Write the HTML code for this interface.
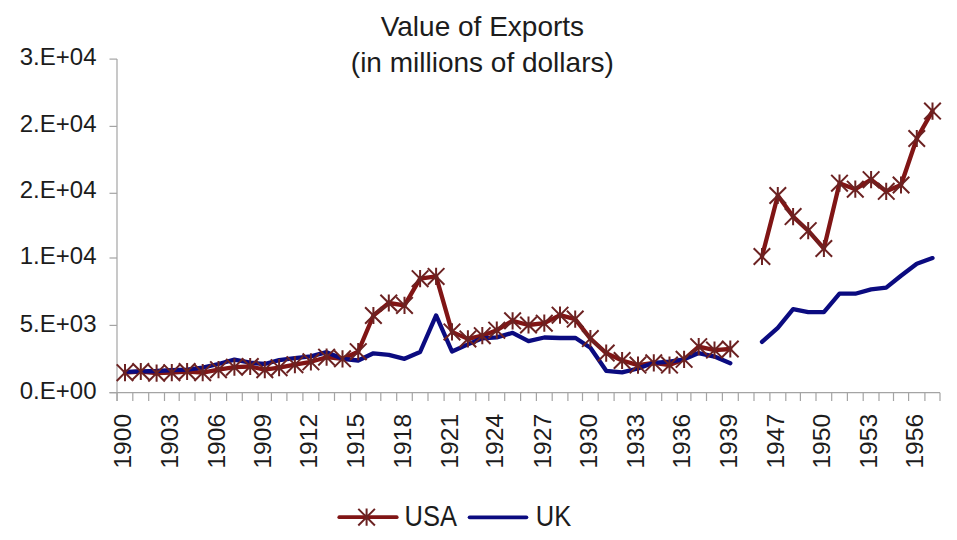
<!DOCTYPE html>
<html><head><meta charset="utf-8"><style>
html,body{margin:0;padding:0;background:#fff;width:957px;height:540px;overflow:hidden}
svg{display:block}
text{font-family:"Liberation Sans",sans-serif;fill:#1c1c1c}
</style></head><body>
<svg width="957" height="540" viewBox="0 0 957 540">
<rect width="957" height="540" fill="#fff"/>
<line x1="117" y1="59.1" x2="117" y2="401" stroke="#a4a4a4" stroke-width="1.2"/>
<line x1="109.5" y1="392.7" x2="940" y2="392.7" stroke="#a4a4a4" stroke-width="1.2"/>
<line x1="109.5" y1="59.1" x2="117" y2="59.1" stroke="#a4a4a4" stroke-width="1.2"/>
<text x="96.5" y="65.0" text-anchor="end" font-size="24">3.E+04</text>
<line x1="109.5" y1="126.4" x2="117" y2="126.4" stroke="#a4a4a4" stroke-width="1.2"/>
<text x="96.5" y="132.2" text-anchor="end" font-size="24">2.E+04</text>
<line x1="109.5" y1="193.3" x2="117" y2="193.3" stroke="#a4a4a4" stroke-width="1.2"/>
<text x="96.5" y="198.4" text-anchor="end" font-size="24">2.E+04</text>
<line x1="109.5" y1="258.0" x2="117" y2="258.0" stroke="#a4a4a4" stroke-width="1.2"/>
<text x="96.5" y="264.2" text-anchor="end" font-size="24">1.E+04</text>
<line x1="109.5" y1="325.4" x2="117" y2="325.4" stroke="#a4a4a4" stroke-width="1.2"/>
<text x="96.5" y="331.6" text-anchor="end" font-size="24">5.E+03</text>
<line x1="109.5" y1="392.7" x2="117" y2="392.7" stroke="#a4a4a4" stroke-width="1.2"/>
<text x="96.5" y="398.8" text-anchor="end" font-size="24">0.E+00</text>
<line x1="117.1" y1="392.7" x2="117.1" y2="401" stroke="#a4a4a4" stroke-width="1.2"/>
<line x1="132.8" y1="392.7" x2="132.8" y2="401" stroke="#a4a4a4" stroke-width="1.2"/>
<line x1="148.7" y1="392.7" x2="148.7" y2="401" stroke="#a4a4a4" stroke-width="1.2"/>
<line x1="164.5" y1="392.7" x2="164.5" y2="401" stroke="#a4a4a4" stroke-width="1.2"/>
<line x1="179.2" y1="392.7" x2="179.2" y2="401" stroke="#a4a4a4" stroke-width="1.2"/>
<line x1="195.0" y1="392.7" x2="195.0" y2="401" stroke="#a4a4a4" stroke-width="1.2"/>
<line x1="210.4" y1="392.7" x2="210.4" y2="401" stroke="#a4a4a4" stroke-width="1.2"/>
<line x1="226.6" y1="392.7" x2="226.6" y2="401" stroke="#a4a4a4" stroke-width="1.2"/>
<line x1="242.3" y1="392.7" x2="242.3" y2="401" stroke="#a4a4a4" stroke-width="1.2"/>
<line x1="258.2" y1="392.7" x2="258.2" y2="401" stroke="#a4a4a4" stroke-width="1.2"/>
<line x1="271.4" y1="392.7" x2="271.4" y2="401" stroke="#a4a4a4" stroke-width="1.2"/>
<line x1="286.9" y1="392.7" x2="286.9" y2="401" stroke="#a4a4a4" stroke-width="1.2"/>
<line x1="302.9" y1="392.7" x2="302.9" y2="401" stroke="#a4a4a4" stroke-width="1.2"/>
<line x1="318.8" y1="392.7" x2="318.8" y2="401" stroke="#a4a4a4" stroke-width="1.2"/>
<line x1="334.5" y1="392.7" x2="334.5" y2="401" stroke="#a4a4a4" stroke-width="1.2"/>
<line x1="350.5" y1="392.7" x2="350.5" y2="401" stroke="#a4a4a4" stroke-width="1.2"/>
<line x1="366.0" y1="392.7" x2="366.0" y2="401" stroke="#a4a4a4" stroke-width="1.2"/>
<line x1="380.8" y1="392.7" x2="380.8" y2="401" stroke="#a4a4a4" stroke-width="1.2"/>
<line x1="396.7" y1="392.7" x2="396.7" y2="401" stroke="#a4a4a4" stroke-width="1.2"/>
<line x1="412.3" y1="392.7" x2="412.3" y2="401" stroke="#a4a4a4" stroke-width="1.2"/>
<line x1="428.0" y1="392.7" x2="428.0" y2="401" stroke="#a4a4a4" stroke-width="1.2"/>
<line x1="444.1" y1="392.7" x2="444.1" y2="401" stroke="#a4a4a4" stroke-width="1.2"/>
<line x1="459.9" y1="392.7" x2="459.9" y2="401" stroke="#a4a4a4" stroke-width="1.2"/>
<line x1="475.8" y1="392.7" x2="475.8" y2="401" stroke="#a4a4a4" stroke-width="1.2"/>
<line x1="488.8" y1="392.7" x2="488.8" y2="401" stroke="#a4a4a4" stroke-width="1.2"/>
<line x1="504.7" y1="392.7" x2="504.7" y2="401" stroke="#a4a4a4" stroke-width="1.2"/>
<line x1="520.6" y1="392.7" x2="520.6" y2="401" stroke="#a4a4a4" stroke-width="1.2"/>
<line x1="536.4" y1="392.7" x2="536.4" y2="401" stroke="#a4a4a4" stroke-width="1.2"/>
<line x1="552.2" y1="392.7" x2="552.2" y2="401" stroke="#a4a4a4" stroke-width="1.2"/>
<line x1="567.9" y1="392.7" x2="567.9" y2="401" stroke="#a4a4a4" stroke-width="1.2"/>
<line x1="582.5" y1="392.7" x2="582.5" y2="401" stroke="#a4a4a4" stroke-width="1.2"/>
<line x1="598.2" y1="392.7" x2="598.2" y2="401" stroke="#a4a4a4" stroke-width="1.2"/>
<line x1="614.1" y1="392.7" x2="614.1" y2="401" stroke="#a4a4a4" stroke-width="1.2"/>
<line x1="630.1" y1="392.7" x2="630.1" y2="401" stroke="#a4a4a4" stroke-width="1.2"/>
<line x1="645.8" y1="392.7" x2="645.8" y2="401" stroke="#a4a4a4" stroke-width="1.2"/>
<line x1="661.7" y1="392.7" x2="661.7" y2="401" stroke="#a4a4a4" stroke-width="1.2"/>
<line x1="677.3" y1="392.7" x2="677.3" y2="401" stroke="#a4a4a4" stroke-width="1.2"/>
<line x1="690.9" y1="392.7" x2="690.9" y2="401" stroke="#a4a4a4" stroke-width="1.2"/>
<line x1="706.5" y1="392.7" x2="706.5" y2="401" stroke="#a4a4a4" stroke-width="1.2"/>
<line x1="722.4" y1="392.7" x2="722.4" y2="401" stroke="#a4a4a4" stroke-width="1.2"/>
<line x1="738.3" y1="392.7" x2="738.3" y2="401" stroke="#a4a4a4" stroke-width="1.2"/>
<line x1="754.0" y1="392.7" x2="754.0" y2="401" stroke="#a4a4a4" stroke-width="1.2"/>
<line x1="769.9" y1="392.7" x2="769.9" y2="401" stroke="#a4a4a4" stroke-width="1.2"/>
<line x1="785.8" y1="392.7" x2="785.8" y2="401" stroke="#a4a4a4" stroke-width="1.2"/>
<line x1="800.4" y1="392.7" x2="800.4" y2="401" stroke="#a4a4a4" stroke-width="1.2"/>
<line x1="816.0" y1="392.7" x2="816.0" y2="401" stroke="#a4a4a4" stroke-width="1.2"/>
<line x1="831.7" y1="392.7" x2="831.7" y2="401" stroke="#a4a4a4" stroke-width="1.2"/>
<line x1="847.4" y1="392.7" x2="847.4" y2="401" stroke="#a4a4a4" stroke-width="1.2"/>
<line x1="863.2" y1="392.7" x2="863.2" y2="401" stroke="#a4a4a4" stroke-width="1.2"/>
<line x1="879.0" y1="392.7" x2="879.0" y2="401" stroke="#a4a4a4" stroke-width="1.2"/>
<line x1="893.5" y1="392.7" x2="893.5" y2="401" stroke="#a4a4a4" stroke-width="1.2"/>
<line x1="908.6" y1="392.7" x2="908.6" y2="401" stroke="#a4a4a4" stroke-width="1.2"/>
<line x1="924.9" y1="392.7" x2="924.9" y2="401" stroke="#a4a4a4" stroke-width="1.2"/>
<line x1="940.0" y1="392.7" x2="940.0" y2="401" stroke="#a4a4a4" stroke-width="1.2"/>
<text transform="translate(131.2,413.9) rotate(-90)" text-anchor="end" font-size="24.6">1900</text>
<text transform="translate(178.0,413.9) rotate(-90)" text-anchor="end" font-size="24.6">1903</text>
<text transform="translate(224.7,413.9) rotate(-90)" text-anchor="end" font-size="24.6">1906</text>
<text transform="translate(271.0,413.9) rotate(-90)" text-anchor="end" font-size="24.6">1909</text>
<text transform="translate(317.1,413.9) rotate(-90)" text-anchor="end" font-size="24.6">1912</text>
<text transform="translate(364.4,413.9) rotate(-90)" text-anchor="end" font-size="24.6">1915</text>
<text transform="translate(410.7,413.9) rotate(-90)" text-anchor="end" font-size="24.6">1918</text>
<text transform="translate(458.2,413.9) rotate(-90)" text-anchor="end" font-size="24.6">1921</text>
<text transform="translate(502.9,413.9) rotate(-90)" text-anchor="end" font-size="24.6">1924</text>
<text transform="translate(550.5,413.9) rotate(-90)" text-anchor="end" font-size="24.6">1927</text>
<text transform="translate(596.6,413.9) rotate(-90)" text-anchor="end" font-size="24.6">1930</text>
<text transform="translate(644.2,413.9) rotate(-90)" text-anchor="end" font-size="24.6">1933</text>
<text transform="translate(690.3,413.9) rotate(-90)" text-anchor="end" font-size="24.6">1936</text>
<text transform="translate(736.5,413.9) rotate(-90)" text-anchor="end" font-size="24.6">1939</text>
<text transform="translate(784.0,413.9) rotate(-90)" text-anchor="end" font-size="24.6">1947</text>
<text transform="translate(830.1,413.9) rotate(-90)" text-anchor="end" font-size="24.6">1950</text>
<text transform="translate(877.3,413.9) rotate(-90)" text-anchor="end" font-size="24.6">1953</text>
<text transform="translate(923.0,413.9) rotate(-90)" text-anchor="end" font-size="24.6">1956</text>
<path d="M125.0,372.7 L140.8,371.5 L156.6,373.2 L171.8,372.7 L187.1,371.5 L202.7,372.7 L218.5,369.7 L234.4,367.2 L250.2,366.5 L264.8,369.7 L279.1,367.7 L294.9,364.7 L310.9,361.8 L326.6,357.2 L342.5,358.8 L358.2,351.7 L373.4,315.5 L388.8,303.0 L404.5,305.4 L420.1,278.7 L436.1,276.4 L452.0,331.9 L467.9,338.9 L482.3,335.7 L496.8,330.2 L512.6,320.8 L528.5,325.0 L544.3,323.2 L560.0,315.2 L575.2,319.1 L590.4,338.6 L606.2,353.1 L622.1,360.5 L638.0,365.1 L653.8,362.8 L669.5,365.1 L684.1,359.3 L698.7,346.7 L714.5,350.1 L730.3,349.0" fill="none" stroke="#801515" stroke-width="4.3" stroke-linejoin="round" stroke-linecap="round"/>
<path d="M762.0,256.5 L777.8,195.5 L793.1,216.6 L808.2,230.7 L823.9,248.5 L839.5,183.2 L855.3,189.2 L871.1,179.7 L886.2,191.3 L901.0,185.0 L916.8,138.5 L932.5,111.1" fill="none" stroke="#801515" stroke-width="4.3" stroke-linejoin="round" stroke-linecap="round"/>
<path d="M125.0,371.8 L140.8,371.4 L156.6,371.0 L171.8,370.2 L187.1,369.7 L202.7,367.7 L218.5,364.0 L234.4,359.7 L250.2,362.7 L264.8,364.0 L279.1,360.2 L294.9,358.2 L310.9,356.3 L326.6,352.2 L342.5,358.8 L358.2,360.5 L373.4,353.3 L388.8,354.8 L404.5,358.8 L420.1,352.0 L436.1,315.4 L452.0,351.5 L467.9,344.4 L482.3,338.3 L496.8,337.4 L512.6,332.8 L528.5,341.1 L544.3,337.5 L560.0,338.0 L575.2,337.8 L590.4,347.8 L606.2,370.8 L622.1,372.4 L638.0,368.5 L653.8,362.8 L669.5,361.6 L684.1,359.3 L698.7,353.1 L714.5,356.6 L730.3,363.2" fill="none" stroke="#0b0b80" stroke-width="4.3" stroke-linejoin="round" stroke-linecap="round"/>
<path d="M762.0,341.9 L777.8,327.8 L793.1,309.2 L808.2,312.1 L823.9,312.1 L839.5,293.7 L855.3,293.7 L871.1,289.4 L886.2,287.6 L901.0,275.8 L916.8,263.8 L932.5,258.1" fill="none" stroke="#0b0b80" stroke-width="4.3" stroke-linejoin="round" stroke-linecap="round"/>
<g stroke="#6c2222" stroke-width="2" fill="none">
<path d="M116.7,364.4 L133.2,381.0 M133.2,364.4 L116.7,381.0 M125.0,364.1 L125.0,381.3"/>
<path d="M132.4,363.2 L149.1,379.8 M149.1,363.2 L132.4,379.8 M140.8,362.9 L140.8,380.1"/>
<path d="M148.3,364.9 L164.9,381.5 M164.9,364.9 L148.3,381.5 M156.6,364.6 L156.6,381.8"/>
<path d="M163.5,364.4 L180.2,381.0 M180.2,364.4 L163.5,381.0 M171.8,364.1 L171.8,381.3"/>
<path d="M178.8,363.2 L195.4,379.8 M195.4,363.2 L178.8,379.8 M187.1,362.9 L187.1,380.1"/>
<path d="M194.4,364.4 L211.0,381.0 M211.0,364.4 L194.4,381.0 M202.7,364.1 L202.7,381.3"/>
<path d="M210.2,361.4 L226.8,378.0 M226.8,361.4 L210.2,378.0 M218.5,361.1 L218.5,378.3"/>
<path d="M226.1,358.9 L242.8,375.5 M242.8,358.9 L226.1,375.5 M234.4,358.6 L234.4,375.8"/>
<path d="M241.9,358.2 L258.6,374.8 M258.6,358.2 L241.9,374.8 M250.2,357.9 L250.2,375.1"/>
<path d="M256.5,361.4 L273.1,378.0 M273.1,361.4 L256.5,378.0 M264.8,361.1 L264.8,378.3"/>
<path d="M270.8,359.4 L287.4,376.0 M287.4,359.4 L270.8,376.0 M279.1,359.1 L279.1,376.3"/>
<path d="M286.6,356.4 L303.2,373.0 M303.2,356.4 L286.6,373.0 M294.9,356.1 L294.9,373.3"/>
<path d="M302.6,353.5 L319.2,370.1 M319.2,353.5 L302.6,370.1 M310.9,353.2 L310.9,370.4"/>
<path d="M318.3,348.9 L334.9,365.5 M334.9,348.9 L318.3,365.5 M326.6,348.6 L326.6,365.8"/>
<path d="M334.2,350.5 L350.8,367.1 M350.8,350.5 L334.2,367.1 M342.5,350.2 L342.5,367.4"/>
<path d="M349.9,343.4 L366.6,360.0 M366.6,343.4 L349.9,360.0 M358.2,343.1 L358.2,360.3"/>
<path d="M365.1,307.2 L381.7,323.8 M381.7,307.2 L365.1,323.8 M373.4,306.9 L373.4,324.1"/>
<path d="M380.4,294.7 L397.1,311.3 M397.1,294.7 L380.4,311.3 M388.8,294.4 L388.8,311.6"/>
<path d="M396.2,297.1 L412.8,313.7 M412.8,297.1 L396.2,313.7 M404.5,296.8 L404.5,314.0"/>
<path d="M411.8,270.4 L428.4,287.0 M428.4,270.4 L411.8,287.0 M420.1,270.1 L420.1,287.3"/>
<path d="M427.8,268.1 L444.4,284.7 M444.4,268.1 L427.8,284.7 M436.1,267.8 L436.1,285.0"/>
<path d="M443.7,323.6 L460.3,340.2 M460.3,323.6 L443.7,340.2 M452.0,323.3 L452.0,340.5"/>
<path d="M459.6,330.6 L476.2,347.2 M476.2,330.6 L459.6,347.2 M467.9,330.3 L467.9,347.5"/>
<path d="M474.0,327.4 L490.6,344.0 M490.6,327.4 L474.0,344.0 M482.3,327.1 L482.3,344.3"/>
<path d="M488.4,321.9 L505.1,338.5 M505.1,321.9 L488.4,338.5 M496.8,321.6 L496.8,338.8"/>
<path d="M504.3,312.5 L520.9,329.1 M520.9,312.5 L504.3,329.1 M512.6,312.2 L512.6,329.4"/>
<path d="M520.2,316.7 L536.8,333.3 M536.8,316.7 L520.2,333.3 M528.5,316.4 L528.5,333.6"/>
<path d="M536.0,314.9 L552.6,331.5 M552.6,314.9 L536.0,331.5 M544.3,314.6 L544.3,331.8"/>
<path d="M551.8,306.9 L568.3,323.5 M568.3,306.9 L551.8,323.5 M560.0,306.6 L560.0,323.8"/>
<path d="M566.9,310.8 L583.5,327.4 M583.5,310.8 L566.9,327.4 M575.2,310.5 L575.2,327.7"/>
<path d="M582.1,330.3 L598.6,346.9 M598.6,330.3 L582.1,346.9 M590.4,330.0 L590.4,347.2"/>
<path d="M597.9,344.8 L614.5,361.4 M614.5,344.8 L597.9,361.4 M606.2,344.5 L606.2,361.7"/>
<path d="M613.8,352.2 L630.4,368.8 M630.4,352.2 L613.8,368.8 M622.1,351.9 L622.1,369.1"/>
<path d="M629.7,356.8 L646.2,373.4 M646.2,356.8 L629.7,373.4 M638.0,356.5 L638.0,373.7"/>
<path d="M645.5,354.5 L662.0,371.1 M662.0,354.5 L645.5,371.1 M653.8,354.2 L653.8,371.4"/>
<path d="M661.2,356.8 L677.8,373.4 M677.8,356.8 L661.2,373.4 M669.5,356.5 L669.5,373.7"/>
<path d="M675.8,351.0 L692.4,367.6 M692.4,351.0 L675.8,367.6 M684.1,350.7 L684.1,367.9"/>
<path d="M690.4,338.4 L707.0,355.0 M707.0,338.4 L690.4,355.0 M698.7,338.1 L698.7,355.3"/>
<path d="M706.2,341.8 L722.8,358.4 M722.8,341.8 L706.2,358.4 M714.5,341.5 L714.5,358.7"/>
<path d="M722.0,340.7 L738.6,357.3 M738.6,340.7 L722.0,357.3 M730.3,340.4 L730.3,357.6"/>
<path d="M753.7,248.2 L770.2,264.8 M770.2,248.2 L753.7,264.8 M762.0,247.9 L762.0,265.1"/>
<path d="M769.5,187.2 L786.1,203.8 M786.1,187.2 L769.5,203.8 M777.8,186.9 L777.8,204.1"/>
<path d="M784.8,208.3 L801.4,224.9 M801.4,208.3 L784.8,224.9 M793.1,208.0 L793.1,225.2"/>
<path d="M799.9,222.4 L816.5,239.0 M816.5,222.4 L799.9,239.0 M808.2,222.1 L808.2,239.3"/>
<path d="M815.6,240.2 L832.1,256.8 M832.1,240.2 L815.6,256.8 M823.9,239.9 L823.9,257.1"/>
<path d="M831.2,174.9 L847.8,191.5 M847.8,174.9 L831.2,191.5 M839.5,174.6 L839.5,191.8"/>
<path d="M847.0,180.9 L863.6,197.5 M863.6,180.9 L847.0,197.5 M855.3,180.6 L855.3,197.8"/>
<path d="M862.8,171.4 L879.4,188.0 M879.4,171.4 L862.8,188.0 M871.1,171.1 L871.1,188.3"/>
<path d="M878.0,183.0 L894.5,199.6 M894.5,183.0 L878.0,199.6 M886.2,182.7 L886.2,199.9"/>
<path d="M892.8,176.7 L909.3,193.3 M909.3,176.7 L892.8,193.3 M901.0,176.4 L901.0,193.6"/>
<path d="M908.5,130.2 L925.0,146.8 M925.0,130.2 L908.5,146.8 M916.8,129.9 L916.8,147.1"/>
<path d="M924.2,102.8 L940.8,119.4 M940.8,102.8 L924.2,119.4 M932.5,102.5 L932.5,119.7"/>
</g>
<text x="482.4" y="36.2" text-anchor="middle" font-size="28">Value of Exports</text>
<text x="482.3" y="71.8" text-anchor="middle" font-size="28">(in millions of dollars)</text>
<line x1="339.3" y1="517.2" x2="396.7" y2="517.2" stroke="#801515" stroke-width="3.8" stroke-linecap="round"/>
<g stroke="#6c2222" stroke-width="2" fill="none"><path d="M358.3,508.9 L374.9,525.5 M374.9,508.9 L358.3,525.5 M366.6,508.6 L366.6,525.8"/></g>
<text transform="translate(404.5,526) scale(1,1.15)" font-size="25.5">USA</text>
<line x1="469.6" y1="517.3" x2="526.4" y2="517.3" stroke="#0b0b80" stroke-width="3.8" stroke-linecap="round"/>
<text transform="translate(535.8,526) scale(1,1.15)" font-size="25.5">UK</text>
</svg>
</body></html>
